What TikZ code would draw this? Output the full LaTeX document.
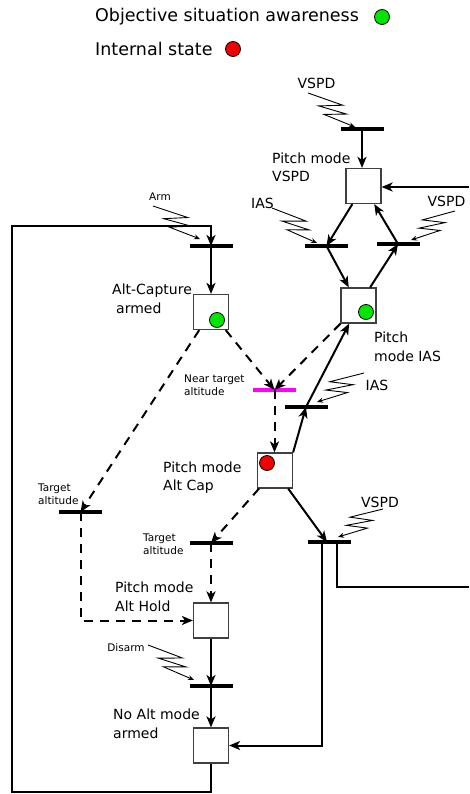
\documentclass[tikz,border=0pt]{standalone}
\usepackage{fontspec}
\setmainfont{DejaVu Sans}
\usetikzlibrary{calc,arrows.meta}
\definecolor{sgreen}{HTML}{00E600}
\definecolor{sred}{HTML}{F00000}
\definecolor{barmag}{HTML}{FF00FF}
\newcommand\zzag[4]{%
  \draw[zzline] (#1) -- ($(#1)!0.61!(#2)!10.5pt!#3:(#2)$)
    -- ($(#1)!0.28!(#2)!4.2pt!#4:(#2)$)
    -- ($(#1)!0.75!(#2)!5.5pt!#3:(#2)$)
    -- ($(#1)!0.44!(#2)!8pt!#4:(#2)$)
    -- (#2);}
\begin{document}
\begin{tikzpicture}[x=1pt,y=-1pt,
  stbox/.style={draw=black!75, line width=1.2pt, fill=white, minimum size=35pt, inner sep=0pt},
  tbar/.style={fill=black, minimum width=43pt, minimum height=4pt, inner sep=0pt},
  mbar/.style={fill=barmag, minimum width=43pt, minimum height=3.5pt, inner sep=0pt},
  arr/.style={line width=2pt, -{Stealth[length=11pt,width=9pt,inset=3pt]}},
  solidl/.style={line width=2pt},
  dsh/.style={dash pattern=on 9pt off 7pt},
  zzline/.style={line width=0.9pt, -{Stealth[length=6pt,width=5pt]}},
  lbl/.style={font=\fontsize{14}{18.5}\selectfont, align=left, anchor=west, inner sep=0pt},
  slbl/.style={font=\fontsize{10.5}{13}\selectfont, align=left, anchor=west, inner sep=0pt},
  evt/.style={font=\fontsize{14}{17}\selectfont, inner sep=0pt},
  legt/.style={font=\fontsize{17.5}{20}\selectfont, anchor=west, inner sep=0pt},
  tok/.style={circle, draw=black, line width=0.8pt, minimum size=15pt, inner sep=0pt},
]
\useasboundingbox (0,0) rectangle (469,794);

% legend
\node[legt] (leg1) at (95,17) {Objective situation awareness};
\node[tok, fill=sgreen] (legg) at (382,17) {};
\node[legt] (leg2) at (95,49) {Internal state};
\node[tok, fill=sred] (legr) at (233,49) {};

% places
\node[stbox] (vspd) at (363.5,186) {};
\node[stbox] (ias) at (358.5,305.5) {};
\node[stbox] (altarm) at (211,312) {};
\node[stbox] (altcap) at (275,470.5) {};
\node[stbox] (althold) at (211,620.5) {};
\node[stbox] (noalt) at (211,745.5) {};

% tokens
\node[tok, fill=sgreen] (tk1) at (366,312) {};
\node[tok, fill=sgreen] (tk2) at (217,320) {};
\node[tok, fill=sred] (tk3) at (267,463) {};

% transitions
\node[tbar] (bvt) at (362,129.5) {};
\node[tbar] (biu) at (326.5,246) {};
\node[tbar] (bvu) at (398,244) {};
\node[tbar] (barm) at (211,246) {};
\node[mbar] (bnear) at (274.5,390) {};
\node[tbar] (bil) at (306,407) {};
\node[tbar] (btl) at (80.5,512) {};
\node[tbar] (btm) at (211,543) {};
\node[tbar] (bvl) at (329.5,542) {};
\node[tbar] (bdis) at (211,686) {};

% coordinates
\coordinate (vin) at (469,187);
\coordinate (vout) at (469,587);
\coordinate (lpB) at (12,792);
\coordinate (lpD) at (211,226);
\coordinate (bvlin) at ($(bvl.center)+(-2.5,0)$);
\coordinate (bvlr) at ($(bvl.center)+(7.5,0)$);
\coordinate (bvll) at ($(bvl.center)+(-7.5,0)$);

% arcs
\draw[arr] (bvt.center) -- (bvt.center |- vspd.north);
\draw[arr] (vin) -- (vin -| vspd.east);
\draw[arr] (vspd) -- (biu.center);
\draw[arr] (biu.center) -- (ias);
\draw[arr] (ias) -- (bvu.center);
\draw[arr] (bvu.center) -- (vspd);

\draw[arr] (noalt.south) |- (lpB) |- (lpD) -- (barm.center);
\draw[arr] (barm.center) -- (altarm.north);
\draw[arr,dsh] (altarm) -- (bnear.center);
\draw[arr,dsh] (ias) -- (bnear.center);
\draw[arr,dsh] (bnear.center) -- (bnear.center |- altcap.north);
\draw[arr,dsh] (altarm) -- (btl.center);
\draw[arr] (altcap.north east) -- (bil.center);
\draw[arr] (bil.center) -- (ias);
\draw[arr] (altcap) -- (bvlin);
\draw[solidl] (bvlr) |- (vout);
\draw[arr] (bvll) |- (noalt.east);
\draw[arr,dsh] (altcap) -- (btm.center);
\draw[arr,dsh] (btm.center) -- (althold.north);
\draw[arr,dsh] (btl.center) |- (althold.west);
\draw[arr] (althold.south) -- (bdis.center);
\draw[arr] (bdis.center) -- (noalt.north);

% labels
\node[lbl] (l1) at (272,167.5) {Pitch mode\\VSPD};
\node[lbl] (l2) at (112,299) {Alt-Capture\\\hspace*{4pt}armed};
\node[lbl] (l3) at (374,347) {Pitch\\mode IAS};
\node[lbl] (l4) at (163,477.5) {Pitch mode\\Alt Cap};
\node[lbl] (l5) at (115,597) {Pitch mode\\Alt Hold};
\node[lbl] (l6) at (113,724) {No Alt mode\\armed};
\node[slbl] (s1) at (184,385.5) {Near target\\altitude};
\node[slbl] (s2) at (38,494.5) {Target\\altitude};
\node[slbl] (s3) at (143,544.5) {Target\\altitude};
\node[slbl, anchor=center] (s4) at (160,197) {Arm};
\node[slbl, anchor=center] (s5) at (126,648) {Disarm};
\node[evt] (e1) at (316.5,83) {VSPD};
\node[evt] (e2) at (262.5,203) {IAS};
\node[evt] (e3) at (446.5,201) {VSPD};
\node[evt] (e4) at (377,385) {IAS};
\node[evt] (e5) at (380,502) {VSPD};

% events
\coordinate (z1s) at (308,93);  \coordinate (z1e) at (355,127);
\coordinate (z2s) at (272,208); \coordinate (z2e) at (317,243);
\coordinate (z3s) at (455,211); \coordinate (z3e) at (411,240);
\coordinate (z4s) at (153,206); \coordinate (z4e) at (200,239);
\coordinate (z5s) at (364,373); \coordinate (z5e) at (317,402);
\coordinate (z6s) at (383,509); \coordinate (z6e) at (338,537);
\coordinate (z7s) at (148,645); \coordinate (z7e) at (194,680);
\zzag{z1s}{z1e}{90}{-90}
\zzag{z2s}{z2e}{90}{-90}
\zzag{z3s}{z3e}{-90}{90}
\zzag{z4s}{z4e}{90}{-90}
\zzag{z5s}{z5e}{-90}{90}
\zzag{z6s}{z6e}{-90}{90}
\zzag{z7s}{z7e}{90}{-90}
\end{tikzpicture}
\end{document}
